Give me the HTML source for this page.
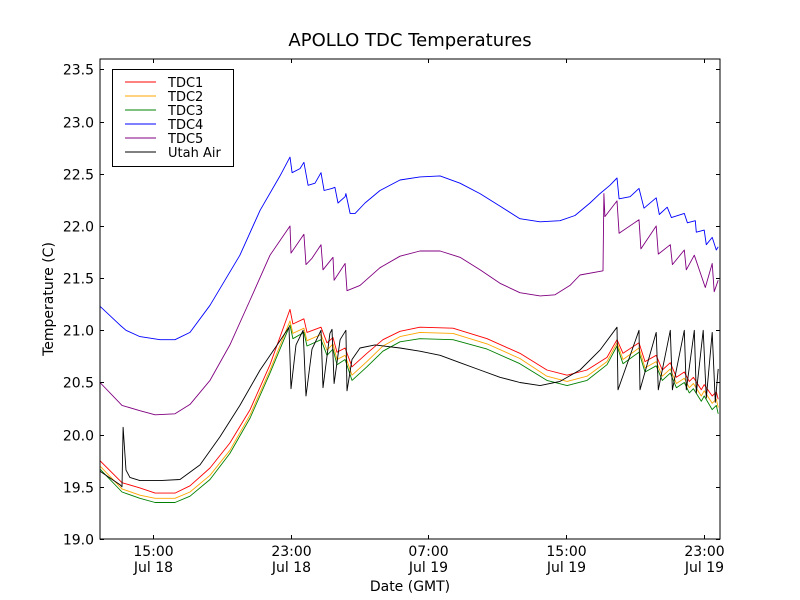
<!DOCTYPE html>
<html><head><meta charset="utf-8"><style>
body{margin:0;background:#fff;}
svg{display:block;font-family:"DejaVu Sans","Liberation Sans",sans-serif;}
</style></head><body>
<svg id="chart" width="800" height="600" xmlns="http://www.w3.org/2000/svg">
<rect x="0" y="0" width="800" height="600" fill="#fff"/>
<text x="410" y="46" font-size="18" text-anchor="middle">APOLLO TDC Temperatures</text>
<text x="410" y="591" font-size="14" text-anchor="middle">Date (GMT)</text>
<text transform="translate(53,299) rotate(-90)" font-size="14" text-anchor="middle">Temperature (C)</text>
<g id="series"></g>
<g id="axes"></g>
<g id="legend"></g>
</svg>
<script>
// Time in hours since Jul 18 00:00 GMT
const xTickHours = [15, 23, 31, 39, 47];
const xTickTimes = ["15:00", "23:00", "07:00", "15:00", "23:00"];
const xTickDays = ["Jul 18", "Jul 18", "Jul 19", "Jul 19", "Jul 19"];
const yTicks = [19.0, 19.5, 20.0, 20.5, 21.0, 21.5, 22.0, 22.5, 23.0, 23.5];
const seriesNames = ["TDC1", "TDC2", "TDC3", "TDC4", "TDC5", "Utah Air"];

const lowTimes = [11.92,13.20,14.24,15.12,16.28,17.15,18.31,19.47,20.64,21.80,22.96,23.13,23.77,23.95,24.76,25.11,25.46,25.69,26.16,26.56,27.43,28.36,29.35,30.51,32.43,34.41,36.32,37.89,39.06,40.22,41.38,41.96,42.31,43.24,43.59,44.24,44.59,45.06,45.41,45.87,46.16,46.40,46.86,47.03,47.49,47.73,47.84];
const tdc1Temps = [19.75,19.54,19.49,19.44,19.44,19.51,19.68,19.92,20.24,20.67,21.20,21.06,21.11,20.98,21.03,20.88,20.93,20.79,20.83,20.65,20.78,20.91,20.99,21.03,21.02,20.92,20.78,20.62,20.57,20.62,20.74,20.91,20.78,20.88,20.70,20.76,20.62,20.69,20.55,20.60,20.51,20.55,20.43,20.48,20.37,20.41,20.34];
const tdc2Temps = [19.70,19.48,19.42,19.39,19.39,19.45,19.61,19.85,20.19,20.62,21.09,20.97,21.02,20.90,20.96,20.81,20.87,20.72,20.76,20.57,20.70,20.85,20.94,20.98,20.97,20.87,20.73,20.56,20.51,20.56,20.70,20.88,20.72,20.83,20.64,20.70,20.56,20.63,20.49,20.54,20.45,20.49,20.37,20.42,20.30,20.34,20.26];
const tdc3Temps = [19.67,19.45,19.39,19.35,19.35,19.41,19.57,19.82,20.16,20.59,21.05,20.92,20.98,20.85,20.91,20.76,20.82,20.67,20.72,20.52,20.65,20.80,20.89,20.92,20.91,20.82,20.68,20.52,20.47,20.52,20.67,20.85,20.68,20.79,20.60,20.66,20.52,20.59,20.45,20.50,20.40,20.44,20.32,20.37,20.24,20.28,20.20];

const tdc4Times = [11.92,13.08,13.43,14.24,15.41,16.28,17.15,18.31,20.05,21.22,22.38,22.96,23.08,23.54,23.77,24.01,24.41,24.76,24.94,25.40,25.57,25.75,26.16,26.21,26.45,26.74,27.32,28.19,29.35,30.51,31.68,32.84,34.00,35.16,36.32,37.49,38.65,39.52,40.39,40.97,41.55,41.96,42.08,42.72,43.24,43.53,44.24,44.42,44.88,45.12,45.87,46.05,46.51,46.57,47.03,47.15,47.49,47.73,47.84];
const tdc4Temps = [21.23,21.05,21.00,20.94,20.91,20.91,20.98,21.24,21.72,22.15,22.48,22.66,22.51,22.55,22.61,22.39,22.41,22.51,22.34,22.36,22.37,22.22,22.28,22.31,22.12,22.12,22.22,22.34,22.44,22.47,22.48,22.41,22.31,22.19,22.07,22.04,22.05,22.10,22.22,22.31,22.39,22.46,22.26,22.28,22.36,22.17,22.27,22.11,22.18,22.08,22.12,22.03,22.05,21.94,21.96,21.82,21.89,21.77,21.80];

const tdc5Times = [11.92,13.08,13.20,14.24,15.12,16.28,17.15,18.31,19.47,20.64,21.80,22.96,23.02,23.77,23.89,24.24,24.76,24.88,25.46,25.52,26.16,26.27,27.03,28.19,29.35,30.51,31.68,32.84,34.00,35.16,36.32,37.49,38.36,39.23,39.81,41.15,41.20,41.26,41.96,42.08,43.24,43.35,44.24,44.36,45.06,45.18,45.87,45.99,46.45,47.09,47.49,47.61,47.84];
const tdc5Temps = [20.50,20.30,20.28,20.23,20.19,20.20,20.29,20.52,20.86,21.29,21.72,22.00,21.74,21.92,21.63,21.69,21.82,21.58,21.70,21.48,21.64,21.38,21.43,21.60,21.71,21.76,21.76,21.70,21.58,21.45,21.36,21.33,21.34,21.43,21.53,21.57,22.31,22.09,22.24,21.93,22.06,21.78,22.00,21.73,21.82,21.63,21.77,21.58,21.72,21.41,21.64,21.37,21.48];

const airTimes = [11.92,13.08,13.20,13.26,13.43,13.66,14.24,15.41,16.57,17.73,18.89,20.05,21.22,22.38,22.90,23.02,23.31,23.72,23.89,24.24,24.76,24.88,25.28,25.40,25.52,25.87,26.21,26.27,26.56,27.03,27.90,29.35,30.51,31.68,32.84,34.00,35.16,36.32,37.49,38.65,39.81,40.97,41.96,42.02,43.24,43.30,44.24,44.36,45.06,45.18,45.87,45.99,46.45,46.57,46.97,47.15,47.49,47.67,47.84];
const airTemps = [19.65,19.52,19.50,20.07,19.66,19.59,19.56,19.56,19.57,19.71,19.98,20.28,20.62,20.90,21.03,20.44,20.86,21.00,20.37,20.82,21.00,20.45,20.97,21.01,20.49,20.91,21.00,20.42,20.72,20.83,20.86,20.83,20.80,20.76,20.69,20.62,20.55,20.50,20.47,20.51,20.62,20.81,21.03,20.43,21.00,20.43,20.98,20.43,21.00,20.43,21.00,20.43,21.00,20.40,21.00,20.35,20.98,20.31,20.63];

const NS = "http://www.w3.org/2000/svg";
const L = 100, R = 720, T = 59, B = 539;
const hMin = 11.92, hMax = 11.92 + 620 / 17.21;
const tMin = 19.0, tMax = 23.6;
function xs(h) { return L + (h - hMin) / (hMax - hMin) * (R - L); }
function ys(t) { return B - (t - tMin) / (tMax - tMin) * (B - T); }

const seriesGroup = document.getElementById("series");
const axes = document.getElementById("axes");
const legend = document.getElementById("legend");

const clip = document.createElementNS(NS, "clipPath");
clip.setAttribute("id", "plotclip");
const cr = document.createElementNS(NS, "rect");
cr.setAttribute("x", L); cr.setAttribute("y", T); cr.setAttribute("width", R - L); cr.setAttribute("height", B - T);
clip.appendChild(cr);
document.getElementById("chart").appendChild(clip);
seriesGroup.setAttribute("clip-path", "url(#plotclip)");

function drawLine(times, temps, color, name) {
  const p = document.createElementNS(NS, "polyline");
  p.setAttribute("points", times.map((h, i) => xs(h).toFixed(1) + "," + ys(temps[i]).toFixed(1)).join(" "));
  p.setAttribute("fill", "none");
  p.setAttribute("stroke", color);
  p.setAttribute("stroke-width", "0.9");
  p.setAttribute("stroke-linejoin", "round");
  
  
  seriesGroup.appendChild(p);
}
drawLine(tdc4Times, tdc4Temps, "#0000ff", "tdc4-line");
drawLine(tdc5Times, tdc5Temps, "#800080", "tdc5-line");
drawLine(lowTimes, tdc1Temps, "#ff0000", "tdc1-line");
drawLine(lowTimes, tdc2Temps, "#ffa500", "tdc2-line");
drawLine(lowTimes, tdc3Temps, "#008000", "tdc3-line");
drawLine(airTimes, airTemps, "#000000", "utah-air-line");

const frame = document.createElementNS(NS, "rect");
frame.setAttribute("x", L); frame.setAttribute("y", T); frame.setAttribute("width", R - L); frame.setAttribute("height", B - T);
frame.setAttribute("fill", "none"); frame.setAttribute("stroke", "#000"); frame.setAttribute("stroke-width", "1");


axes.appendChild(frame);

function tick(x1, y1, x2, y2) {
  const l = document.createElementNS(NS, "line");
  l.setAttribute("x1", x1); l.setAttribute("y1", y1); l.setAttribute("x2", x2); l.setAttribute("y2", y2);
  l.setAttribute("stroke", "#000"); l.setAttribute("stroke-width", "1");
  
  
  axes.appendChild(l);
}
function label(x, y, txt, anchor, name) {
  const t = document.createElementNS(NS, "text");
  t.setAttribute("x", x); t.setAttribute("y", y);
  t.setAttribute("font-size", "14"); t.setAttribute("text-anchor", anchor);
  t.textContent = txt;
  
  
  axes.appendChild(t);
}
yTicks.forEach(v => {
  const y = Math.round(ys(v)) + 0.5;
  tick(L, y, L + 4, y); tick(R, y, R - 4, y);
  label(94, y + 5, v.toFixed(1), "end", "y-tick-label");
});
xTickHours.forEach((h, i) => {
  const x = Math.round(xs(h)) + 0.5;
  tick(x, B, x, B - 4); tick(x, T, x, T + 4);
  label(x, 556, xTickTimes[i], "middle", "x-tick-time");
  label(x, 572, xTickDays[i], "middle", "x-tick-day");
});

const box = document.createElementNS(NS, "rect");
box.setAttribute("x", 112.5); box.setAttribute("y", 69.5); box.setAttribute("width", 121); box.setAttribute("height", 97);
box.setAttribute("fill", "#fff"); box.setAttribute("stroke", "#000");


legend.appendChild(box);
const legendColors = ["#ff0000", "#ffa500", "#008000", "#0000ff", "#800080", "#000000"];
seriesNames.forEach((n, i) => {
  const y = 82 + i * 14;
  const g = document.createElementNS(NS, "g");
  
  
  const l = document.createElementNS(NS, "line");
  l.setAttribute("x1", 125); l.setAttribute("x2", 156); l.setAttribute("y1", y); l.setAttribute("y2", y);
  l.setAttribute("stroke", legendColors[i]); l.setAttribute("stroke-width", "1");
  g.appendChild(l);
  const t = document.createElementNS(NS, "text");
  t.setAttribute("x", 168); t.setAttribute("y", y + 5); t.setAttribute("font-size", "13");
  t.textContent = n;
  g.appendChild(t);
  legend.appendChild(g);
});
</script>
</body></html>
